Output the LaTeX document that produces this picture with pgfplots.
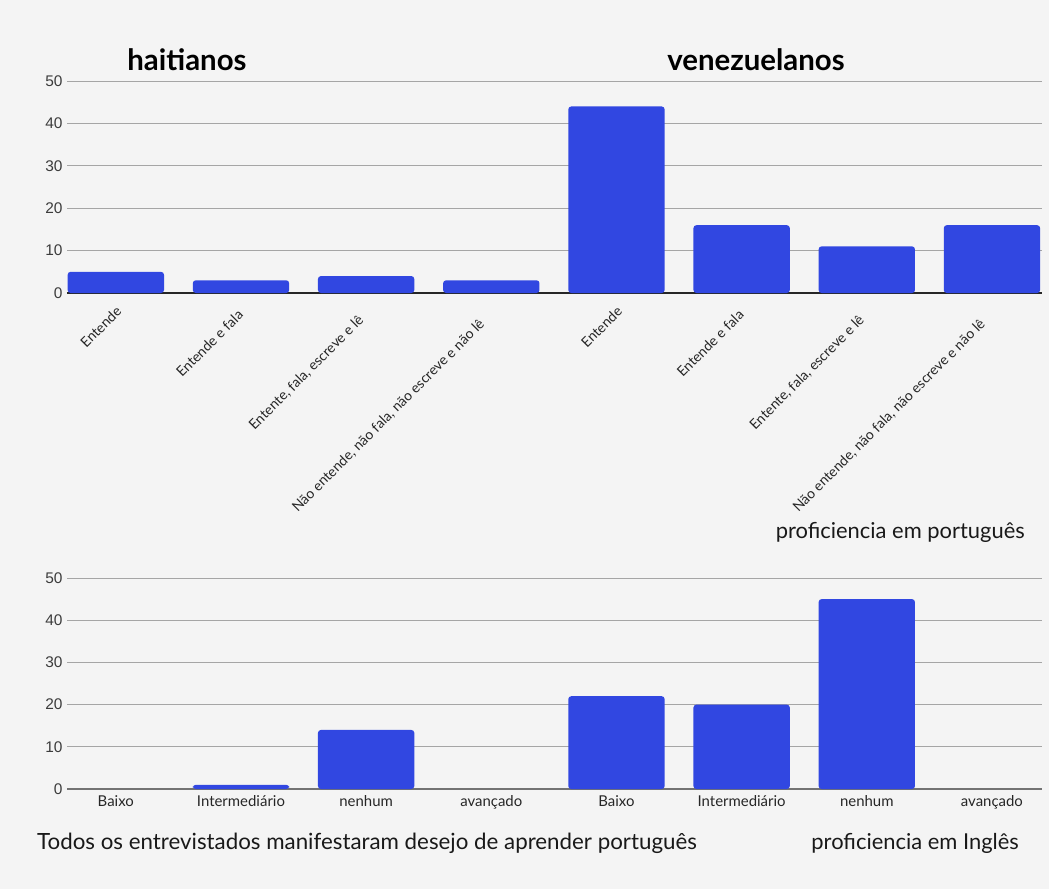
\documentclass[border=0pt]{standalone}
\usepackage{pgfplots}
\pgfplotsset{compat=1.18}
\usepackage{fontspec}
\setmainfont{Lato}
\newfontfamily\arialf{Liberation Sans}
\definecolor{bg}{RGB}{244,244,244}
\definecolor{barin}{RGB}{62,88,250}
\definecolor{barout}{RGB}{36,54,200}
\definecolor{gridc}{RGB}{165,165,165}
\definecolor{tickc}{RGB}{60,60,60}
\tikzset{rl/.style={rotate=45, anchor=north east, inner sep=1bp, font=\fontsize{14}{14}\selectfont, text=black!85, yshift=-7bp}}
\begin{document}
\begin{tikzpicture}[x=1bp,y=1bp]
\fill[bg] (0,0) rectangle (1049,-889);
\pgfplotsset{
 mybars/.style={
  scale only axis, width=975bp,
  xmin=-0.39, xmax=7.4, ymin=0, ymax=50,
  ytick={0,10,...,50}, ymajorgrids, grid style={gridc, line width=0.9bp},
  axis line style={draw=none}, major tick length=0pt,
  xtick={0,...,7},
  yticklabel style={font=\arialf\fontsize{15.5}{15.5}\selectfont, text=tickc, xshift=-1bp},
  /pgf/number format/assume math mode=true,
  extra y ticks={0}, extra y tick labels={},
  clip=false,
 },
 mybar/.style={ybar, bar width=0.77, draw=none, fill=barin!50!barout, rounded corners=3bp},
}
\begin{axis}[mybars, at={(67bp,-293bp)}, anchor=south west, height=212bp,
  extra y tick style={grid style={black!85, line width=1.3bp}},
  xticklabels={},
]
\addplot[mybar] coordinates {(0,5)(1,3)(2,4)(3,3)(4,44)(5,16)(6,11)(7,16)};
\node[rl, xshift=-8bp] at (axis cs:0,0) {Entende};
\node[rl, xshift=-13bp] at (axis cs:1,0) {Entende e fala};
\node[rl, xshift=-20bp] at (axis cs:2,0) {Entente, fala, escreve e lê};
\node[rl, xshift=-26bp] at (axis cs:3,0) {Não entende, não fala, não escreve e não lê};
\node[rl, xshift=-8bp] at (axis cs:4,0) {Entende};
\node[rl, xshift=-13bp] at (axis cs:5,0) {Entende e fala};
\node[rl, xshift=-20bp] at (axis cs:6,0) {Entente, fala, escreve e lê};
\node[rl, xshift=-26bp] at (axis cs:7,0) {Não entende, não fala, não escreve e não lê};
\end{axis}
\begin{axis}[mybars, at={(67bp,-789bp)}, anchor=south west, height=211bp,
  extra y tick style={grid style={black!55, line width=1.3bp}},
  xticklabels={Baixo, Intermediário, nenhum, avançado, Baixo, Intermediário, nenhum, avançado},
  xticklabel style={font=\fontsize{15}{15}\selectfont, text=black!85, yshift=-3bp},
]
\addplot[mybar] coordinates {(1,1)(2,14)(4,22)(5,20)(6,45)};
\end{axis}
\node[font=\fontsize{29.5}{29.5}\selectfont\bfseries] at (187,-60) {haitianos};
\node[font=\fontsize{29.5}{29.5}\selectfont\bfseries] at (756,-60) {venezuelanos};
\node[anchor=east, inner sep=0pt, font=\fontsize{22}{22}\selectfont, text=black!90] at (1025,-532) {proficiencia em português};
\node[anchor=west, inner sep=0pt, font=\fontsize{22.4}{22.4}\selectfont, text=black!90] at (37,-843) {Todos os entrevistados manifestaram desejo de aprender português};
\node[anchor=east, inner sep=0pt, font=\fontsize{22}{22}\selectfont, text=black!90] at (1019,-843) {proficiencia em Inglês};
\end{tikzpicture}
\end{document}
